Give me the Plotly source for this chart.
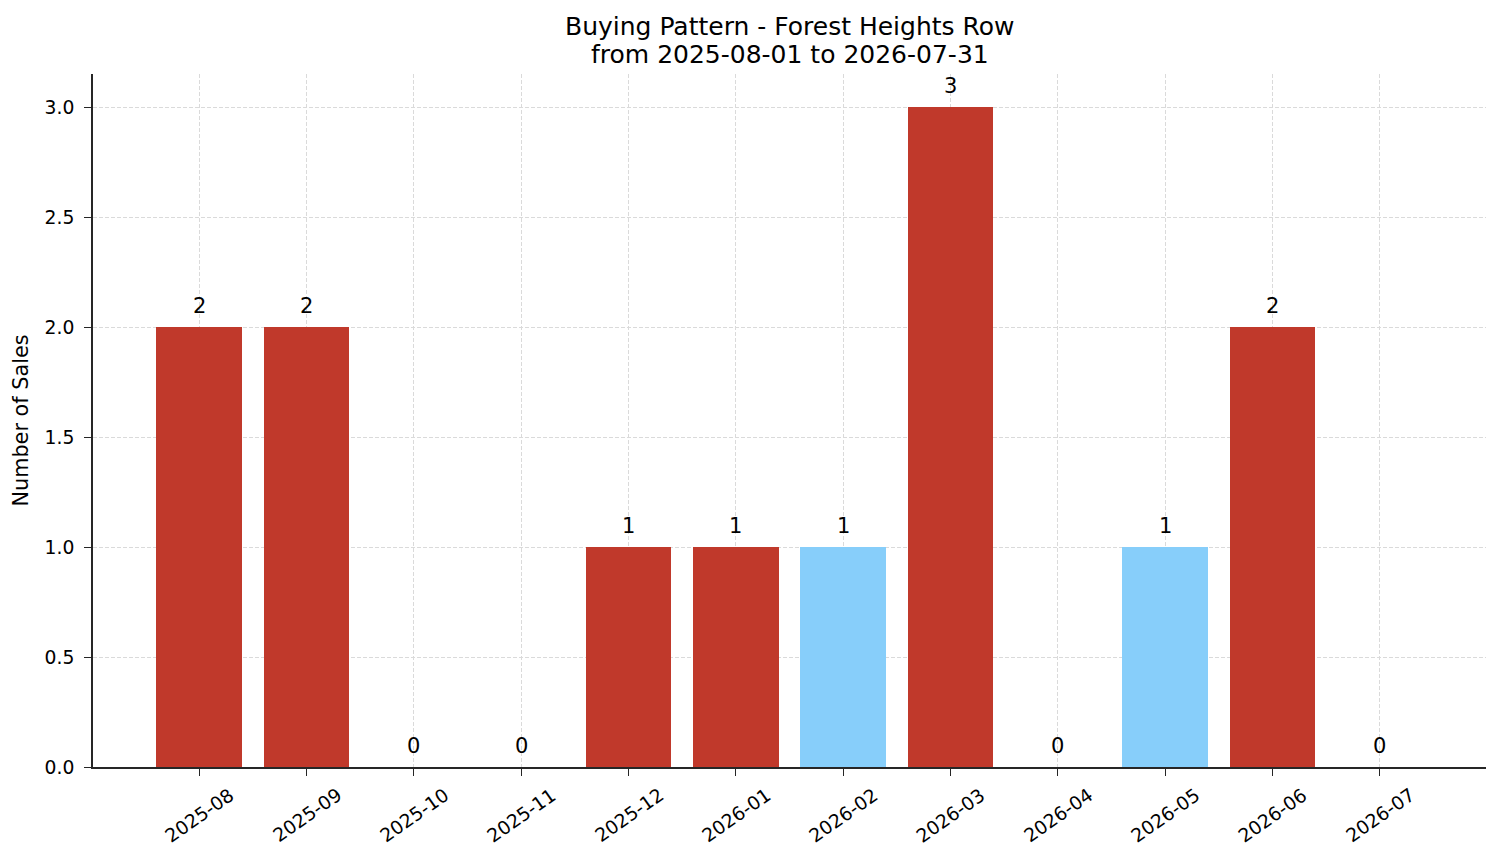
import plotly.graph_objects as go

# %% data
months = ["2025-08", "2025-09", "2025-10", "2025-11", "2025-12", "2026-01",
          "2026-02", "2026-03", "2026-04", "2026-05", "2026-06", "2026-07"]
sales = [2, 2, 0, 0, 1, 1, 1, 3, 0, 1, 2, 0]
highlight = [False, False, False, False, False, False,
             True, False, False, True, False, False]
title_lines = ["Buying Pattern - Forest Heights Row",
               "from 2025-08-01 to 2026-07-31"]

RED = "#C0392B"
BLUE = "#87CEFA"
FONT = "DejaVu Sans"
AXC = "#262626"

colors = [BLUE if h else RED for h in highlight]
xpos = list(range(len(months)))

fig = go.Figure()
fig.add_trace(go.Bar(x=xpos, y=sales, width=0.8, marker_color=colors,
                     marker_line_width=0, showlegend=False))

# value labels above each bar
for i, v in enumerate(sales):
    fig.add_annotation(x=i, y=v, yanchor="middle", xanchor="center",
                       yshift=21, text=str(v), showarrow=False,
                       font=dict(family=FONT, size=21, color="black"))

# rotated month labels, centred under each tick like the original
for i, m in enumerate(months):
    fig.add_annotation(x=i, y=0, yref="paper", xanchor="center",
                       yanchor="middle", yshift=-48, text=m,
                       textangle=-35, showarrow=False,
                       font=dict(family=FONT, size=18.75, color="black"))

# two-line title
for k, line in enumerate(title_lines):
    fig.add_annotation(x=0.5, xref="paper", y=1, yref="paper",
                       xanchor="center", yanchor="middle",
                       yshift=48 - 28 * k, text=line, showarrow=False,
                       font=dict(family=FONT, size=25, color="black"))

fig.update_layout(
    width=1493, height=855,
    margin=dict(l=82, r=15, t=66, b=96),
    plot_bgcolor="white", paper_bgcolor="white",
    font=dict(family=FONT, size=18.75, color="black"),
    bargap=0,
)
fig.update_xaxes(range=[-0.99, 11.99], tickvals=xpos, showticklabels=False,
                 ticks="outside", ticklen=7, tickwidth=1.3, tickcolor=AXC,
                 showline=True, linecolor=AXC, linewidth=1.6,
                 showgrid=True, gridcolor="#dadada", griddash="4px,2px",
                 gridwidth=0.8, zeroline=False)
fig.update_yaxes(range=[0, 3.15], tickvals=[0, 0.5, 1, 1.5, 2, 2.5, 3],
                 ticktext=["0.0", "0.5", "1.0", "1.5", "2.0", "2.5", "3.0"],
                 ticks="outside", ticklen=7, tickwidth=1.3, tickcolor=AXC,
                 ticklabelstandoff=6,
                 tickfont=dict(family=FONT, size=18.75, color="black"),
                 showline=True, linecolor=AXC, linewidth=1.6,
                 showgrid=True, gridcolor="#dadada", griddash="4px,2px",
                 gridwidth=0.8, zeroline=False,
                 title=dict(text="Number of Sales", standoff=10,
                            font=dict(family=FONT, size=20.8)))

fig.write_html("out.html")
